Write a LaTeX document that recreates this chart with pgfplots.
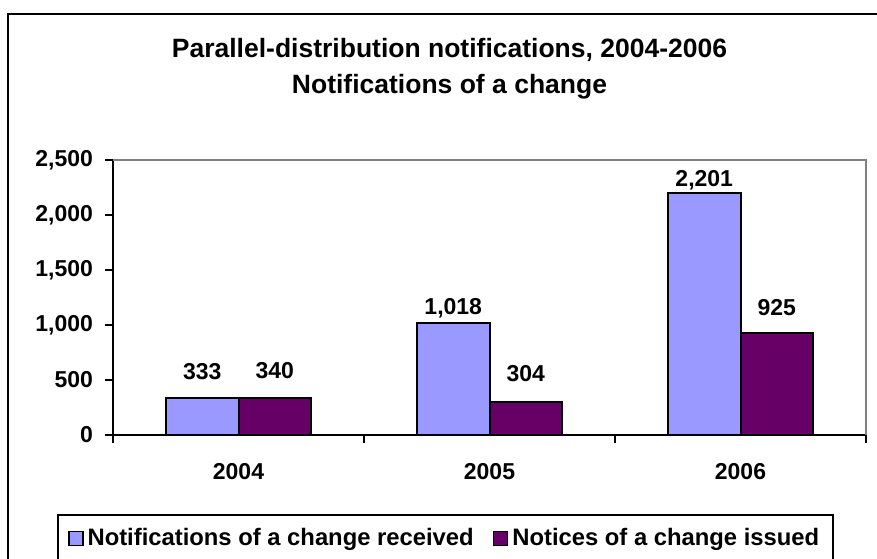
\documentclass[border=0pt]{standalone}
\usepackage{fontspec}
\setmainfont{Liberation Sans}
\usepackage{pgfplots}
\usepackage{pgfplotstable}
\pgfplotsset{compat=1.18}
\definecolor{barblue}{HTML}{9999FF}
\definecolor{barpurple}{HTML}{660066}
\definecolor{axgray}{HTML}{808080}
\newcommand{\lblfont}{\bfseries\fontsize{11.5pt}{13pt}\selectfont}
\newcommand{\legfont}{\bfseries\fontsize{11.9pt}{13pt}\selectfont}
\newcommand{\ttlfont}{\bfseries\fontsize{13.25pt}{15pt}\selectfont}

\pgfplotstableread{
x y
0.5 333
1.5 1018
2.5 2201
}\received
\pgfplotstableread{
x y
0.5 340
1.5 304
2.5 925
}\issued
% label positions (centre of each value label)
\pgfplotstableread{
x y lbl
0.3556 578 333
1.3556 1154 1,018
2.3556 2319 2,201
0.6444 585 340
1.6444 559 304
2.6444 1161 925
}\labels

\begin{document}
\begin{tikzpicture}
\path[use as bounding box] (0,0) rectangle (438.5pt,279pt);
\draw[line width=1pt] (4.2pt,-2pt) -- (4.2pt,272pt) -- (442pt,272pt);
\node[font=\ttlfont, anchor=base, inner sep=0pt] at (224.75pt,250pt) {Parallel-distribution notifications, 2004-2006};
\node[font=\ttlfont, anchor=base, inner sep=0pt] at (224.75pt,232pt) {Notifications of a change};
\begin{axis}[
  at={(56.5pt,61.5pt)}, anchor=south west,
  scale only axis, width=376.5pt, height=137.5pt,
  xmin=0, xmax=3, ymin=0, ymax=2500,
  clip=false,
  axis lines*=left,
  axis line style={-, line width=1pt, black},
  tick align=outside,
  major tick length=4pt,
  tick style={line width=1pt, black},
  xtick={0,1,2,3}, xticklabels={},
  extra x ticks={0.5,1.5,2.5},
  extra x tick labels={2004,2005,2006},
  extra x tick style={major tick length=0pt, xticklabel style={yshift=-10.5pt}},
  ytick={0,500,1000,1500,2000,2500},
  yticklabel style={xshift=-2.5pt},
  scaled y ticks=false,
  /pgf/number format/fixed,
  /pgf/number format/precision=0,
  /pgf/number format/1000 sep={,},
  /pgf/number format/assume math mode=true,
  tick label style={font=\lblfont, text=black},
  legend columns=2,
  legend style={at={(axis description cs:-0.0744,-0.2873)}, anchor=north west,
    draw=black, line width=1pt, font=\legfont, inner xsep=5pt, inner ysep=4.6pt,
    /tikz/every even column/.append style={column sep=7.5pt}},
  legend cell align=left,
]
\draw[axgray, line width=1pt] (rel axis cs:0,1) -- (rel axis cs:1,1) -- (rel axis cs:1,0);
\addplot[ybar, bar width=36.25pt, bar shift=-18.125pt, fill=barblue, draw=black, line width=1pt,
  legend image code/.code={\draw[fill=barblue, draw=black, line width=0.8pt] (0pt,-3.5pt) rectangle (7pt,3.5pt);}]
  table[x=x, y=y] {\received};
\addlegendentry{Notifications of a change received}
\addplot[ybar, bar width=36.25pt, bar shift=18.125pt, fill=barpurple, draw=black, line width=1pt,
  legend image code/.code={\draw[fill=barpurple, draw=black, line width=0.8pt] (0pt,-3.5pt) rectangle (7pt,3.5pt);}]
  table[x=x, y=y] {\issued};
\addlegendentry{Notices of a change issued}
\addplot[only marks, mark=none, draw=none, forget plot,
  nodes near coords, point meta=explicit symbolic,
  every node near coord/.append style={font=\lblfont, text=black, anchor=center, inner sep=0pt}]
  table[x=x, y=y, meta=lbl] {\labels};
\end{axis}
\end{tikzpicture}
\end{document}
